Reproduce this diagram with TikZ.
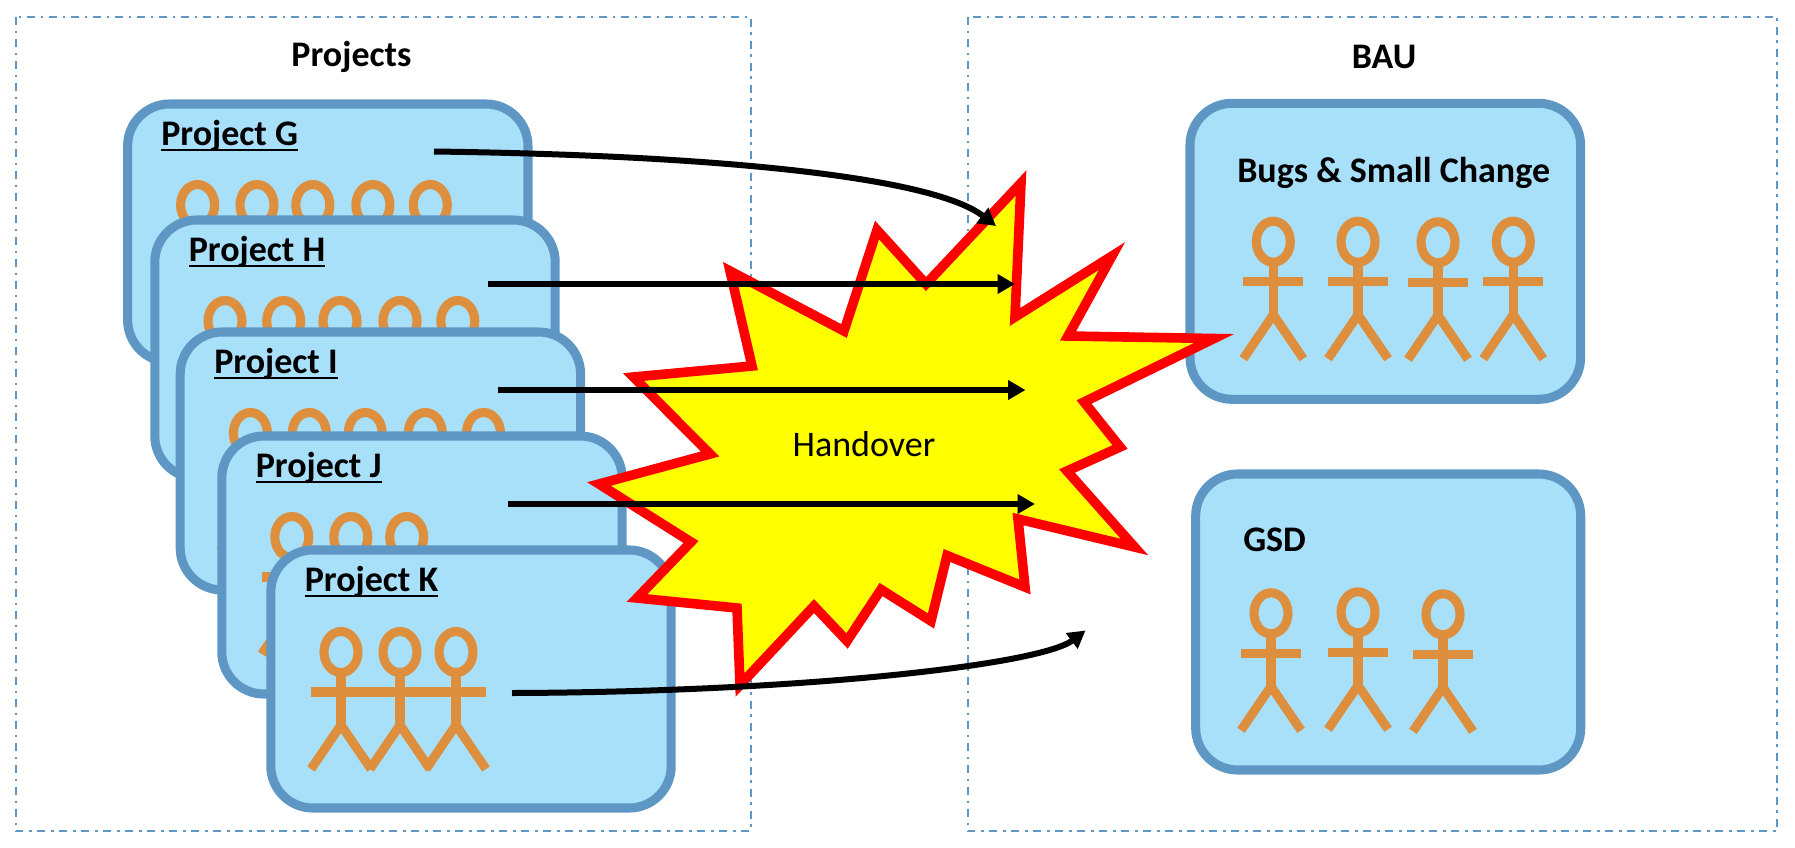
\documentclass[tikz,border=0pt]{standalone}
\usepackage{fontspec}
\setmainfont{Carlito}
\usetikzlibrary{arrows.meta}

\definecolor{boxfill}{RGB}{168,223,249}
\definecolor{boxline}{RGB}{95,151,196}
\definecolor{personline}{RGB}{222,143,62}
\definecolor{burstfill}{RGB}{255,255,0}
\definecolor{burstline}{RGB}{255,0,0}

\tikzset{
    frame/.style={draw=boxline, line width=1.5pt,
        dash pattern=on 6pt off 4.4pt on 1.8pt off 4.3pt},
    teambox/.style={draw=boxline, fill=boxfill, line width=6.8pt,
        rectangle, rounded corners=31.5pt, inner sep=0pt},
    project/.style={teambox, minimum width=300.3pt, minimum height=193.5pt},
    heading/.style={inner sep=0pt, font=\fontsize{27}{30}\selectfont\bfseries},
    boxtitle/.style={heading, anchor=base west},
    person/.style={draw=personline, line width=6.8pt},
    burst/.style={draw=burstline, fill=burstfill, line width=7.2pt, miter limit=20},
    handover/.style={draw=black, line width=4.5pt,
        -{Triangle[length=13pt,width=14pt]}}
}

% Title with its rule close under the baseline
\newcommand{\ruled}[1]{\setbox0=\hbox{#1}\rlap{\rule[-4.3pt]{\wd0}{1.6pt}}\box0}

% Head at (#1,#2), the rest of the figure hangs from it
\newcommand{\stick}[2]{
    \draw[person] (#1,#2) ellipse [x radius=17, y radius=20.5];
    \draw[person] (#1,#2+20.5) -- (#1,#2+73);
    \draw[person] (#1-30,#2+40) -- (#1+30,#2+40);
    \draw[person] (#1-30,#2+117) -- (#1,#2+73) -- (#1+30,#2+117);
}

\begin{document}
\begin{tikzpicture}[x=.75pt, y=-.75pt]

        \useasboundingbox (0,0) rectangle (1795,847);

        \draw[frame] (15.7,16.7) rectangle (751,831);
        \draw[frame] (967.7,16.7) rectangle (1777,831);
        \node[heading] (Projects) at (351.5,56.5) {Projects};
        \node[heading] (BAU) at (1384,57) {BAU};

        % Stack of projects, back to front
        \node (ProjG) [project] at (327.8,233) {};
        \node (TitleG) [boxtitle] at (161,145.5) {\ruled{Project G}};
        \foreach\x in {197.6,257,312.8,372.9,430.3}
            {\stick{\x}{205}}

        \node (ProjH) [project] at (355,349) {};
        \node (TitleH) [boxtitle] at (188.5,261.5) {\ruled{Project H}};
        \foreach\x in {225,283.7,340,400,457.8}
            {\stick{\x}{321}}

        \node (ProjI) [project] at (380.4,461) {};
        \node (TitleI) [boxtitle] at (214,373.5) {\ruled{Project I}};
        \foreach\x in {250.4,309.3,365.2,425.3,483.5}
            {\stick{\x}{433}}

        \node (ProjJ) [project] at (422,565) {};
        \node (TitleJ) [boxtitle] at (255.5,477.5) {\ruled{Project J}};
        \foreach\x in {291.8,350.8,406.7}
            {\stick{\x}{537}}

        \node (ProjK) [project] at (471,679) {};
        \node (TitleK) [boxtitle] at (304.5,591.5) {\ruled{Project K}};
        \foreach\x in {341,400,456}
            {\stick{\x}{652}}

        % BAU teams
        \node (Bugs) [teambox, minimum width=293pt, minimum height=222pt] at (1385.3,251.3) {};
        \node (TitleBugs) [boxtitle] at (1237,182) {Bugs \& Small Change};
        \stick{1273.3}{241.7}
        \stick{1358}{241.7}
        \stick{1438}{242.3}
        \stick{1513.3}{241.7}

        \node (GSD) [teambox, minimum width=288.8pt, minimum height=222pt] at (1388.2,622) {};
        \node (TitleGSD) [boxtitle] at (1243,551.5) {GSD};
        \stick{1271}{613.3}
        \stick{1358}{612.3}
        \stick{1443}{614.3}

        \draw[burst] (1021,183) -- (1015,317) -- (1112,256) -- (1068,336)
            -- (1214,338.5) -- (1084,402) -- (1120,447) -- (1067,471)
            -- (1134.5,547) -- (1018,519) -- (1025,587) -- (947,555.5)
            -- (931,621) -- (881,589.5) -- (847,641) -- (814,606)
            -- (740,685) -- (737,608) -- (637,598) -- (691,542)
            -- (599,484) -- (710,454) -- (633.5,377) -- (752,366)
            -- (730,271) -- (844,331) -- (877,230) -- (926,284) -- cycle;
        \node (Label) [inner sep=0pt, anchor=base, font=\fontsize{27}{30}\selectfont]
            at (864,456.5) {Handover};

        % Where the arrows leave the projects and reach the burst
        \coordinate (FromG) at (434,151.5);
        \coordinate (FromH) at (488,284);
        \coordinate (FromI) at (498,390);
        \coordinate (FromJ) at (508,504);
        \coordinate (FromK) at (512,693);
        \coordinate (ToG) at (996,226);
        \coordinate (ToH) at (1015,284);
        \coordinate (ToI) at (1025.5,390);
        \coordinate (ToJ) at (1035,504);
        \coordinate (ToK) at (1085.5,630.5);

        \begin{scope}
            \draw[handover] (FromG) .. controls (700,155) and (930,175) .. (ToG);
            \draw[handover] (FromH) -- (ToH);
            \draw[handover] (FromI) -- (ToI);
            \draw[handover] (FromJ) -- (ToJ);
            \draw[handover] (FromK) .. controls (800,692) and (1040,665) .. (ToK);
        \end{scope}

\end{tikzpicture}
\end{document}
